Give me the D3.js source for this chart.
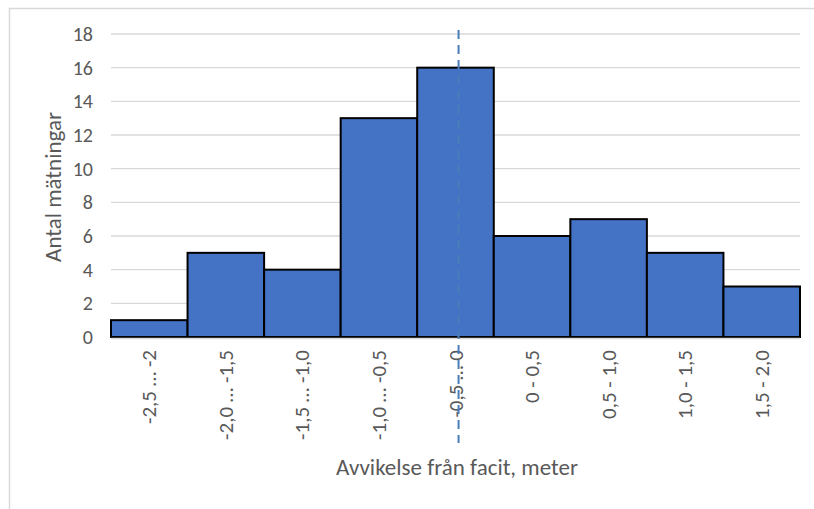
<!DOCTYPE html>
<head>
<meta charset="utf-8">
<style>
body { margin:0; background:#fff; }
text { font-family: Calibri, Carlito, Lato, "Open Sans", sans-serif; fill:#595959; }
</style>
</head>
<body>
<div id="chart1"></div>
<script src="https://d3js.org/d3.v7.min.js"></script>
<script>

// bins (meter), counts and labels
var binEdges = [-2.5, -2.0, -1.5, -1.0, -0.5, 0, 0.5, 1.0, 1.5, 2.0];
var counts = [1, 5, 4, 13, 16, 6, 7, 5, 3];
var binLabels = ["-2,5 … -2", "-2,0 … -1,5", "-1,5 … -1,0", "-1,0 … -0,5", "-0,5 … 0",
                 "0 - 0,5", "0,5 - 1,0", "1,0 - 1,5", "1,5 - 2,0"];
var yTicks = [0, 2, 4, 6, 8, 10, 12, 14, 16, 18];
var markerValue = -0.23;

var width = 814, height = 509;
var margin = {top: 34, right: 14, bottom: 172, left: 111};
var plotW = 800 - margin.left, plotH = 337 - margin.top;

var svg = d3.select('#chart1')
  .append('svg')
    .attr('width', width)
    .attr('height', height);

// outer chart frame
svg.append("rect")
    .attr("x", 9.5).attr("y", 8.5)
    .attr("width", 820).attr("height", 520)
    .attr("fill", "none")
    .attr("stroke", "#d9d9d9")
    .attr("stroke-width", 1.5);

var xScale = d3.scaleLinear().domain([-2.5, 2.0]).range([0, plotW]),
    yScale = d3.scaleLinear().domain([0, 18]).range([plotH, 0]);

var g = svg.append("g")
    .attr("transform", "translate(" + margin.left + "," + margin.top + ")");

// gridlines
g.selectAll(".grid")
  .data(yTicks.slice(1))
  .enter().append("line")
    .attr("class", "grid")
    .attr("x1", 0).attr("x2", plotW)
    .attr("y1", function(d) { return yScale(d); })
    .attr("y2", function(d) { return yScale(d); })
    .attr("stroke", "#d9d9d9")
    .attr("stroke-width", 1.3);

// y axis labels
var yAxis = d3.axisLeft(yScale).tickValues(yTicks).tickSize(0).tickPadding(18);
g.append("g")
    .attr("class", "axis axis--y")
    .style("font-size", "20px")
    .call(yAxis)
    .call(function(s) { s.select(".domain").remove(); })
    .selectAll("text")
      .style("font-family", "Calibri, Carlito, Lato, 'Open Sans', sans-serif")
      .attr("fill", "#595959");

// bars
var bins = counts.map(function(c, i) { return {x0: binEdges[i], x1: binEdges[i + 1], n: c, label: binLabels[i]}; });

g.selectAll(".bar")
  .data(bins)
  .enter().append("rect")
    .attr("class", "bar")
    .attr("x", function(d) { return xScale(d.x0); })
    .attr("y", function(d) { return yScale(d.n); })
    .attr("width", function(d) { return xScale(d.x1) - xScale(d.x0); })
    .attr("height", function(d) { return plotH - yScale(d.n); })
    .attr("fill", "#4472c4")
    .attr("stroke", "#000")
    .attr("stroke-width", 2);

// baseline
g.append("line")
    .attr("x1", 0).attr("x2", plotW)
    .attr("y1", plotH + 1.5).attr("y2", plotH + 1.5)
    .attr("stroke", "#d9d9d9")
    .attr("stroke-width", 1.3);

// x labels rotated
g.selectAll(".xlabel")
  .data(bins)
  .enter().append("text")
    .attr("class", "xlabel")
    .attr("transform", function(d) {
      var cx = (xScale(d.x0) + xScale(d.x1)) / 2;
      return "translate(" + (cx + 7) + "," + (plotH + 13) + ") rotate(-90)";
    })
    .attr("text-anchor", "end")
    .style("font-size", "21px")
    .text(function(d) { return d.label; });

// dashed marker line
g.append("line")
    .attr("x1", xScale(markerValue)).attr("x2", xScale(markerValue))
    .attr("y1", -4).attr("y2", 409)
    .attr("stroke", "#4a7ebb")
    .attr("stroke-width", 2)
    .attr("stroke-dasharray", "9,6");

// axis titles
svg.append("text")
    .attr("transform", "rotate(-90)")
    .attr("x", -187)
    .attr("y", 61)
    .attr("text-anchor", "middle")
    .style("font-size", "23px")
    .text("Antal mätningar");

svg.append("text")
    .attr("x", 457)
    .attr("y", 475)
    .attr("text-anchor", "middle")
    .style("font-size", "23px")
    .text("Avvikelse från facit, meter");

</script>
</body>
